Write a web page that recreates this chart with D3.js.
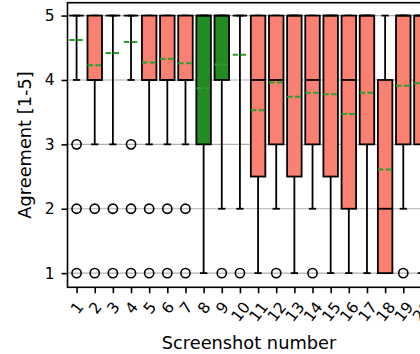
<!DOCTYPE html>
<html>
<head>
<meta charset="utf-8">
<script src="https://cdn.jsdelivr.net/npm/d3@7"></script>
<style>
  body { margin: 0; background: #fff; }
  svg { display: block; }
  text { font-family: "DejaVu Sans", sans-serif; fill: #000; }
</style>
</head>
<body>
<svg id="chart" width="420" height="354"></svg>
<script>
// Agreement ratings (1-5) per screenshot, summarised as box statistics
const screenshots = ["1","2","3","4","5","6","7","8","9","10","11","12","13","14","15","16","17","18","19","20"];
const whiskerLow  = [4, 3, 3, 4, 3, 3, 3, 1, 2, 2, 1, 2, 1, 2, 1, 1, 1, 1, 2, 1];
const quartile1   = [5, 4, 5, 5, 4, 4, 4, 3, 4, 5, 2.5, 3, 2.5, 3, 2.5, 2, 3, 1, 3, 3];
const medians     = [5, 4, 5, 5, 4, 4, 4, 5, 5, 5, 4, 4, 5, 4, 5, 4, 5, 2, 5, 5];
const quartile3   = [5, 5, 5, 5, 5, 5, 5, 5, 5, 5, 5, 5, 5, 5, 5, 5, 5, 4, 5, 5];
const whiskerHigh = [5, 5, 5, 5, 5, 5, 5, 5, 5, 5, 5, 5, 5, 5, 5, 5, 5, 5, 5, 5];
const means       = [4.62, 4.23, 4.42, 4.59, 4.27, 4.33, 4.26, 3.87, 4.24, 4.39,
                     3.53, 3.96, 3.74, 3.80, 3.78, 3.47, 3.80, 2.61, 3.91, 3.95];
const outliers    = [[1,2,3],[1,2],[1,2],[1,2,3],[1,2],[1,2],[1,2],[],[1],[1],
                     [],[1],[],[1],[],[],[],[],[1],[]];
const highlighted = ["8","9"];
const yTicks      = [1, 2, 3, 4, 5];

const boxes = screenshots.map((s, i) => ({
  pos: i + 1, label: s,
  lo: whiskerLow[i], q1: quartile1[i], med: medians[i], q3: quartile3[i], hi: whiskerHigh[i],
  mean: means[i], fliers: outliers[i],
  color: highlighted.includes(s) ? "#228b22" : "#fa8072"
}));

const svg = d3.select("#chart");
const plot = { left: 67.5, right: 430.5, top: 2.7, bottom: 287.3 };

const x = d3.scaleLinear().domain([0.5, screenshots.length + 0.5]).range([plot.left, plot.right]);
const y = d3.scaleLinear().domain([0.78, 5.2]).range([plot.bottom, plot.top]);
const half = x(1.4) - x(1);           // half box width (box width 0.8)
const capHalf = half / 2;

// horizontal grid lines
svg.append("g").selectAll("line").data(yTicks).join("line")
  .attr("x1", plot.left).attr("x2", plot.right)
  .attr("y1", d => y(d)).attr("y2", d => y(d))
  .attr("stroke", "#b0b0b0").attr("stroke-width", 1.1);

const g = svg.append("g").selectAll("g").data(boxes).join("g");
const lw = 1.8;

// whiskers
g.append("line").attr("x1", d => x(d.pos)).attr("x2", d => x(d.pos))
  .attr("y1", d => y(d.lo)).attr("y2", d => y(d.q1))
  .attr("stroke", "#000").attr("stroke-width", lw);
g.append("line").attr("x1", d => x(d.pos)).attr("x2", d => x(d.pos))
  .attr("y1", d => y(d.q3)).attr("y2", d => y(d.hi))
  .attr("stroke", "#000").attr("stroke-width", lw);
// caps
g.append("line").attr("x1", d => x(d.pos) - capHalf).attr("x2", d => x(d.pos) + capHalf)
  .attr("y1", d => y(d.lo)).attr("y2", d => y(d.lo))
  .attr("stroke", "#000").attr("stroke-width", lw);
g.append("line").attr("x1", d => x(d.pos) - capHalf).attr("x2", d => x(d.pos) + capHalf)
  .attr("y1", d => y(d.hi)).attr("y2", d => y(d.hi))
  .attr("stroke", "#000").attr("stroke-width", lw);
// boxes
g.append("rect")
  .attr("x", d => x(d.pos) - half).attr("width", 2 * half)
  .attr("y", d => y(d.q3)).attr("height", d => y(d.q1) - y(d.q3))
  .attr("fill", d => d.color).attr("stroke", "#000").attr("stroke-width", lw);
// medians
g.append("line").attr("x1", d => x(d.pos) - half).attr("x2", d => x(d.pos) + half)
  .attr("y1", d => y(d.med)).attr("y2", d => y(d.med))
  .attr("stroke", "#000").attr("stroke-width", lw);
// means (dashed)
g.append("line").attr("x1", d => x(d.pos) - half).attr("x2", d => x(d.pos) + half)
  .attr("y1", d => y(d.mean)).attr("y2", d => y(d.mean))
  .attr("stroke", "#2ca02c").attr("stroke-width", 2).attr("stroke-dasharray", "5.5,2.4");
// outliers
g.selectAll("circle").data(d => d.fliers.map(v => ({ pos: d.pos, v }))).join("circle")
  .attr("cx", d => x(d.pos)).attr("cy", d => y(d.v)).attr("r", 4.6)
  .attr("fill", "none").attr("stroke", "#000").attr("stroke-width", 1.6);

// spines
svg.append("rect").attr("x", plot.left).attr("y", plot.top)
  .attr("width", plot.right - plot.left).attr("height", plot.bottom - plot.top)
  .attr("fill", "none").attr("stroke", "#000").attr("stroke-width", 1.6);

// y axis
const yAxis = svg.append("g").attr("transform", `translate(${plot.left},0)`)
  .call(d3.axisLeft(y).tickValues(yTicks).tickFormat(d3.format("d")).tickSize(6).tickPadding(7));
yAxis.select(".domain").remove();
yAxis.selectAll(".tick line").attr("stroke", "#000").attr("stroke-width", 1.6);
yAxis.selectAll(".tick text").attr("font-size", 15.5).attr("font-family", "DejaVu Sans");

// x axis, labels rotated and centred under each tick
const rot = 52;
const xAxis = svg.append("g").attr("transform", `translate(0,${plot.bottom})`)
  .call(d3.axisBottom(x).tickValues(boxes.map(b => b.pos)).tickFormat((d, i) => screenshots[i]).tickSize(6));
xAxis.select(".domain").remove();
xAxis.selectAll(".tick line").attr("stroke", "#000").attr("stroke-width", 1.6);
xAxis.selectAll(".tick text")
  .attr("font-size", 15.5).attr("font-family", "DejaVu Sans")
  .attr("text-anchor", "middle").attr("dy", "0.35em").attr("y", 0)
  .each(function () {
    const w = this.getComputedTextLength();
    const h = 15.5 * 0.95;
    const a = rot * Math.PI / 180;
    const bh = w * Math.sin(a) + h * Math.cos(a);
    d3.select(this).attr("transform", `translate(0,${12 + bh / 2}) rotate(${-rot})`);
  });

// axis titles
svg.append("text").attr("x", (plot.left + plot.right) / 2).attr("y", 348.5)
  .attr("text-anchor", "middle").attr("font-size", 17.8).text("Screenshot number");
svg.append("text").attr("transform", `translate(31,${(plot.top + plot.bottom) / 2}) rotate(-90)`)
  .attr("text-anchor", "middle").attr("font-size", 17.8).text("Agreement [1-5]");
</script>
</body>
</html>
